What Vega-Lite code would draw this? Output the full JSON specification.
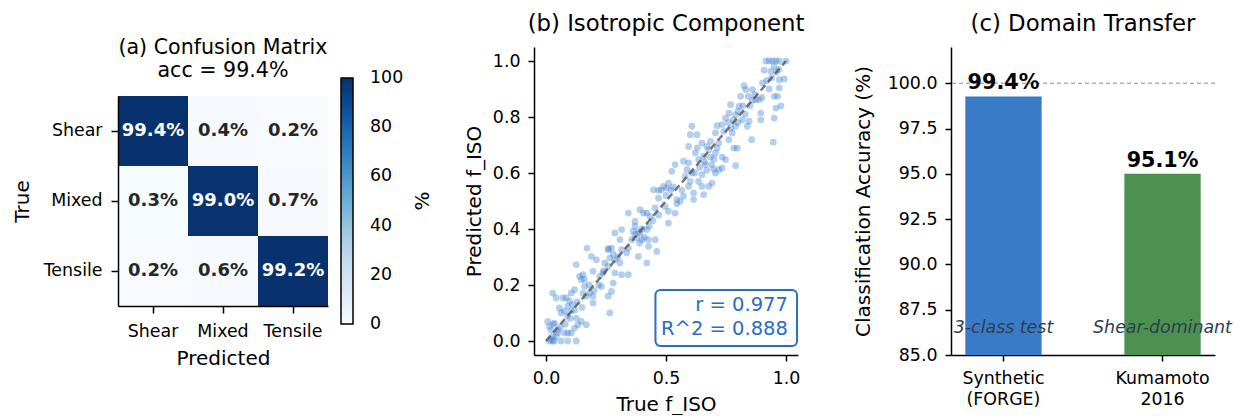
{
  "$schema": "https://vega.github.io/schema/vega-lite/v6.json",
  "padding": {"left": 12, "top": 13, "right": 5, "bottom": 0},
  "bounds": "flush",
  "center": true,
  "spacing": 153,
  "datasets": {
    "cm": [
      {"true": "Shear", "pred": "Shear", "pct": 99.4},
      {"true": "Shear", "pred": "Mixed", "pct": 0.4},
      {"true": "Shear", "pred": "Tensile", "pct": 0.2},
      {"true": "Mixed", "pred": "Shear", "pct": 0.3},
      {"true": "Mixed", "pred": "Mixed", "pct": 99.0},
      {"true": "Mixed", "pred": "Tensile", "pct": 0.7},
      {"true": "Tensile", "pred": "Shear", "pct": 0.2},
      {"true": "Tensile", "pred": "Mixed", "pct": 0.6},
      {"true": "Tensile", "pred": "Tensile", "pct": 99.2}
    ],
    "scatter": [
      {"t":0.014,"p":0.0},{"t":0.021,"p":0.005},{"t":0.028,"p":0.0},{"t":0.035,"p":0.0},{"t":0.042,"p":0.017},{"t":0.028,"p":0.017},{"t":0.007,"p":0.07},{"t":0.035,"p":0.064},{"t":0.014,"p":0.052},{"t":0.021,"p":0.04},{"t":0.049,"p":0.04},{"t":0.063,"p":0.0},{"t":0.091,"p":0.0},{"t":0.126,"p":0.0},{"t":0.077,"p":0.029},{"t":0.091,"p":0.029},{"t":0.105,"p":0.029},{"t":0.119,"p":0.046},{"t":0.133,"p":0.058},{"t":0.168,"p":0.058},{"t":0.147,"p":0.07},{"t":0.126,"p":0.082},{"t":0.105,"p":0.107},{"t":0.077,"p":0.107},{"t":0.063,"p":0.1},{"t":0.056,"p":0.118},{"t":0.091,"p":0.124},{"t":0.028,"p":0.171},{"t":0.042,"p":0.154},{"t":0.07,"p":0.154},{"t":0.084,"p":0.154},{"t":0.098,"p":0.142},{"t":0.105,"p":0.171},{"t":0.119,"p":0.183},{"t":0.14,"p":0.231},{"t":0.126,"p":0.273},{"t":0.154,"p":0.171},{"t":0.168,"p":0.16},{"t":0.147,"p":0.219},{"t":0.154,"p":0.237},{"t":0.161,"p":0.195},{"t":0.182,"p":0.171},{"t":0.196,"p":0.16},{"t":0.196,"p":0.136},{"t":0.171,"p":0.332},{"t":0.189,"p":0.302},{"t":0.21,"p":0.29},{"t":0.196,"p":0.249},{"t":0.224,"p":0.231},{"t":0.231,"p":0.195},{"t":0.238,"p":0.243},{"t":0.245,"p":0.279},{"t":0.259,"p":0.267},{"t":0.259,"p":0.16},{"t":0.266,"p":0.1},{"t":0.273,"p":0.177},{"t":0.28,"p":0.207},{"t":0.287,"p":0.243},{"t":0.287,"p":0.29},{"t":0.266,"p":0.296},{"t":0.259,"p":0.326},{"t":0.273,"p":0.332},{"t":0.287,"p":0.386},{"t":0.308,"p":0.362},{"t":0.315,"p":0.398},{"t":0.315,"p":0.326},{"t":0.308,"p":0.279},{"t":0.315,"p":0.237},{"t":0.343,"p":0.237},{"t":0.336,"p":0.314},{"t":0.343,"p":0.332},{"t":0.343,"p":0.457},{"t":0.357,"p":0.362},{"t":0.364,"p":0.392},{"t":0.371,"p":0.41},{"t":0.371,"p":0.427},{"t":0.378,"p":0.368},{"t":0.385,"p":0.302},{"t":0.392,"p":0.386},{"t":0.392,"p":0.469},{"t":0.4,"p":0.362},{"t":0.406,"p":0.457},{"t":0.42,"p":0.457},{"t":0.42,"p":0.398},{"t":0.42,"p":0.279},{"t":0.427,"p":0.362},{"t":0.427,"p":0.338},{"t":0.434,"p":0.445},{"t":0.448,"p":0.54},{"t":0.455,"p":0.475},{"t":0.455,"p":0.362},{"t":0.462,"p":0.32},{"t":0.469,"p":0.538},{"t":0.469,"p":0.51},{"t":0.49,"p":0.552},{"t":0.497,"p":0.48},{"t":0.503,"p":0.546},{"t":0.51,"p":0.564},{"t":0.51,"p":0.463},{"t":0.51,"p":0.421},{"t":0.524,"p":0.606},{"t":0.538,"p":0.63},{"t":0.538,"p":0.457},{"t":0.545,"p":0.505},{"t":0.545,"p":0.49},{"t":0.559,"p":0.499},{"t":0.566,"p":0.538},{"t":0.573,"p":0.517},{"t":0.573,"p":0.642},{"t":0.58,"p":0.588},{"t":0.587,"p":0.612},{"t":0.594,"p":0.636},{"t":0.594,"p":0.552},{"t":0.594,"p":0.695},{"t":0.601,"p":0.57},{"t":0.601,"p":0.737},{"t":0.608,"p":0.6},{"t":0.608,"p":0.767},{"t":0.615,"p":0.505},{"t":0.615,"p":0.529},{"t":0.622,"p":0.671},{"t":0.629,"p":0.737},{"t":0.636,"p":0.648},{"t":0.636,"p":0.57},{"t":0.65,"p":0.594},{"t":0.65,"p":0.552},{"t":0.65,"p":0.707},{"t":0.657,"p":0.66},{"t":0.657,"p":0.523},{"t":0.664,"p":0.63},{"t":0.671,"p":0.695},{"t":0.678,"p":0.683},{"t":0.678,"p":0.552},{"t":0.685,"p":0.657},{"t":0.685,"p":0.713},{"t":0.692,"p":0.564},{"t":0.699,"p":0.614},{"t":0.706,"p":0.6},{"t":0.706,"p":0.671},{"t":0.706,"p":0.743},{"t":0.713,"p":0.689},{"t":0.713,"p":0.769},{"t":0.72,"p":0.707},{"t":0.72,"p":0.612},{"t":0.734,"p":0.618},{"t":0.734,"p":0.657},{"t":0.734,"p":0.773},{"t":0.741,"p":0.749},{"t":0.748,"p":0.796},{"t":0.748,"p":0.648},{"t":0.762,"p":0.719},{"t":0.762,"p":0.814},{"t":0.769,"p":0.844},{"t":0.776,"p":0.743},{"t":0.783,"p":0.689},{"t":0.79,"p":0.626},{"t":0.79,"p":0.767},{"t":0.79,"p":0.808},{"t":0.797,"p":0.689},{"t":0.804,"p":0.838},{"t":0.811,"p":0.874},{"t":0.818,"p":0.79},{"t":0.825,"p":0.912},{"t":0.832,"p":0.898},{"t":0.839,"p":0.767},{"t":0.843,"p":0.874},{"t":0.846,"p":0.785},{"t":0.857,"p":0.719},{"t":0.86,"p":0.898},{"t":0.874,"p":0.862},{"t":0.888,"p":0.862},{"t":0.895,"p":0.814},{"t":0.895,"p":0.79},{"t":0.902,"p":0.921},{"t":0.909,"p":0.967},{"t":0.916,"p":1.0},{"t":0.93,"p":1.0},{"t":0.937,"p":0.963},{"t":0.944,"p":1.0},{"t":0.958,"p":1.0},{"t":0.972,"p":1.0},{"t":1.0,"p":1.0},{"t":0.972,"p":0.933},{"t":0.993,"p":0.936},{"t":0.972,"p":0.904},{"t":0.951,"p":0.874},{"t":0.965,"p":0.874},{"t":0.958,"p":0.832},{"t":0.979,"p":0.84},{"t":0.951,"p":0.796},{"t":0.947,"p":0.71},
      {"t":0.385,"p":0.39},{"t":0.4,"p":0.4},{"t":0.41,"p":0.37},{"t":0.39,"p":0.35},{"t":0.37,"p":0.38},{"t":0.43,"p":0.41},{"t":0.445,"p":0.43},{"t":0.26,"p":0.33},{"t":0.28,"p":0.31},{"t":0.3,"p":0.3},{"t":0.24,"p":0.25},{"t":0.22,"p":0.2},{"t":0.2,"p":0.18},{"t":0.18,"p":0.2},{"t":0.16,"p":0.22},{"t":0.5,"p":0.52},{"t":0.52,"p":0.54},{"t":0.53,"p":0.55},{"t":0.48,"p":0.54},{"t":0.47,"p":0.45},{"t":0.62,"p":0.6},{"t":0.64,"p":0.62},{"t":0.66,"p":0.64},{"t":0.63,"p":0.69},{"t":0.67,"p":0.61},{"t":0.69,"p":0.63},{"t":0.7,"p":0.65},{"t":0.76,"p":0.78},{"t":0.78,"p":0.79},{"t":0.8,"p":0.82},{"t":0.82,"p":0.84},{"t":0.77,"p":0.76},{"t":0.83,"p":0.81},{"t":0.85,"p":0.84},{"t":0.87,"p":0.88},{"t":0.86,"p":0.86},{"t":0.8,"p":0.78},{"t":0.92,"p":0.93},{"t":0.94,"p":0.94},{"t":0.96,"p":0.96},{"t":0.95,"p":0.98},{"t":0.97,"p":0.97},{"t":0.93,"p":0.9},{"t":0.9,"p":0.87},{"t":0.05,"p":0.03},{"t":0.03,"p":0.06},{"t":0.06,"p":0.05},{"t":0.08,"p":0.06},{"t":0.1,"p":0.08},{"t":0.12,"p":0.11},{"t":0.13,"p":0.14},{"t":0.11,"p":0.13},{"t":0.15,"p":0.12},{"t":0.09,"p":0.09}
    ],
    "bars": [
      {"dataset": "Synthetic (FORGE)", "acc": 99.27, "label": "99.4%", "note": "3-class test"},
      {"dataset": "Kumamoto 2016", "acc": 95.0, "label": "95.1%", "note": "Shear-dominant"}
    ]
  },
  "hconcat": [
    {
      "width": 263,
      "height": 210,
      "title": {"text": ["(a) Confusion Matrix", "acc = 99.4%"], "fontSize": 20.6, "lineHeight": 23, "offset": -4, "dx": -26.5},
      "data": {"name": "cm"},
      "transform": [{"calculate": "format(datum.pct, '.1f') + '%'", "as": "label"}],
      "encoding": {
        "x": {"field": "pred", "type": "nominal", "sort": ["Shear", "Mixed", "Tensile"],
              "scale": {"range": [0, 210], "paddingInner": 0, "paddingOuter": 0},
              "axis": {"title": "Predicted", "labelAngle": 0, "tickSize": 7, "labelPadding": 9, "titlePadding": 9}},
        "y": {"field": "true", "type": "nominal", "sort": ["Shear", "Mixed", "Tensile"],
              "scale": {"paddingInner": 0, "paddingOuter": 0},
              "axis": {"title": "True", "tickSize": 7, "labelPadding": 9, "titlePadding": 11}}
      },
      "layer": [
        {
          "mark": {"type": "rect"},
          "encoding": {
            "color": {"field": "pct", "type": "quantitative",
                      "scale": {"domain": [0, 12.5, 25, 37.5, 50, 62.5, 75, 87.5, 100],
                                "range": ["#f7fbff", "#deebf7", "#c6dbef", "#9ecae1", "#6baed6", "#4292c6", "#2171b5", "#08519c", "#08306b"]},
                      "legend": {"orient": "none", "legendX": 223, "legendY": -18, "direction": "vertical",
                                 "gradientLength": 246, "gradientThickness": 12,
                                 "values": [0, 20, 40, 60, 80, 100],
                                 "labelFontSize": 17.4, "labelColor": "black", "labelOffset": 17,
                                 "title": "%", "titleOrient": "right", "titleFontSize": 20, "titleFontWeight": "normal",
                                 "titleColor": "black", "titlePadding": 30, "titleAnchor": "middle",
                                 "gradientStrokeColor": "black", "gradientStrokeWidth": 1.5,
                                 "encode": {"title": {"update": {"angle": {"value": -90}}},
                                            "labels": {"update": {"baseline": {"value": "middle"}}}}}}
          }
        },
        {
          "mark": {"type": "text", "fontWeight": "bold", "fontSize": 18},
          "encoding": {
            "text": {"field": "label"},
            "color": {"condition": {"test": "datum.pct > 50", "value": "white"}, "value": "#262626"}
          }
        }
      ]
    },
    {
      "width": 264,
      "height": 308,
      "title": {"text": "(b) Isotropic Component", "offset": 11},
      "layer": [
        {
          "data": {"name": "scatter"},
          "mark": {"type": "circle", "size": 46, "color": "#3a7fd0", "opacity": 0.38},
          "encoding": {
            "x": {"field": "t", "type": "quantitative", "scale": {"domain": [-0.05, 1.05], "nice": false, "zero": false},
                  "axis": {"title": "True f_ISO", "values": [0, 0.5, 1], "format": ".1f"}},
            "y": {"field": "p", "type": "quantitative", "scale": {"domain": [-0.05, 1.05], "nice": false, "zero": false},
                  "axis": {"title": "Predicted f_ISO", "values": [0, 0.2, 0.4, 0.6, 0.8, 1.0], "format": ".1f"}}
          }
        },
        {
          "data": {"values": [{}]},
          "mark": {"type": "rule", "color": "#555555", "strokeDash": [7, 4], "strokeWidth": 2.5, "opacity": 0.8},
          "encoding": {"x": {"datum": 0}, "y": {"datum": 0}, "x2": {"datum": 1}, "y2": {"datum": 1}}
        },
        {
          "data": {"values": [{}]},
          "mark": {"type": "rect", "fill": "white", "stroke": "#2b6cc4", "strokeWidth": 2, "cornerRadius": 5},
          "encoding": {"x": {"datum": 0.456}, "x2": {"datum": 1.046}, "y": {"datum": -0.018}, "y2": {"datum": 0.182}}
        },
        {
          "data": {"values": [{}]},
          "mark": {"type": "text", "align": "right", "baseline": "middle", "fontSize": 19.5, "color": "#2b6cc4", "lineHeight": 24},
          "encoding": {"x": {"datum": 1.008}, "y": {"datum": 0.129}, "text": {"value": ["r = 0.977", "R^2 = 0.888"]}}
        }
      ]
    },
    {
      "width": 264,
      "height": 308,
      "title": {"text": "(c) Domain Transfer", "offset": 11},
      "data": {"name": "bars"},
      "layer": [
        {
          "mark": {"type": "bar", "clip": true},
          "encoding": {
            "x": {"field": "dataset", "type": "nominal", "sort": null,
                  "scale": {"paddingInner": 0.52, "paddingOuter": 0.09},
                  "axis": {"title": null, "labelAngle": 0, "labelExpr": "split(datum.label, ' ')", "labelLineHeight": 21}},
            "y": {"field": "acc", "type": "quantitative", "scale": {"domain": [85, 102], "nice": false, "zero": false},
                  "axis": {"title": "Classification Accuracy (%)", "values": [85, 87.5, 90, 92.5, 95, 97.5, 100], "format": ".1f", "titlePadding": 14}},
            "color": {"field": "dataset", "type": "nominal", "sort": null,
                      "scale": {"range": ["#3a7bc8", "#4c9150"]}, "legend": null}
          }
        },
        {
          "mark": {"type": "rule", "color": "#aaaaaa", "strokeDash": [4, 3], "strokeWidth": 1},
          "encoding": {"y": {"datum": 100}}
        },
        {
          "mark": {"type": "text", "fontWeight": "bold", "fontSize": 20.7, "baseline": "bottom", "dy": -3},
          "encoding": {
            "x": {"field": "dataset", "type": "nominal", "sort": null},
            "y": {"field": "acc", "type": "quantitative"},
            "text": {"field": "label"}
          }
        },
        {
          "mark": {"type": "text", "fontStyle": "italic", "fontSize": 17.4, "color": "#2c3e50", "baseline": "middle"},
          "encoding": {
            "x": {"field": "dataset", "type": "nominal", "sort": null},
            "y": {"datum": 86.5},
            "text": {"field": "note"}
          }
        }
      ]
    }
  ],
  "config": {
    "font": "DejaVu Sans",
    "view": {"stroke": null},
    "axis": {"domainColor": "black", "domainWidth": 1.5, "tickColor": "black", "tickWidth": 1.5, "tickSize": 6,
             "labelFontSize": 17.4, "labelColor": "black", "titleFontSize": 20, "titleFontWeight": "normal",
             "titleColor": "black", "grid": false, "labelPadding": 8, "titlePadding": 8},
    "title": {"fontSize": 22.8, "fontWeight": "normal", "color": "black"}
  }
}
